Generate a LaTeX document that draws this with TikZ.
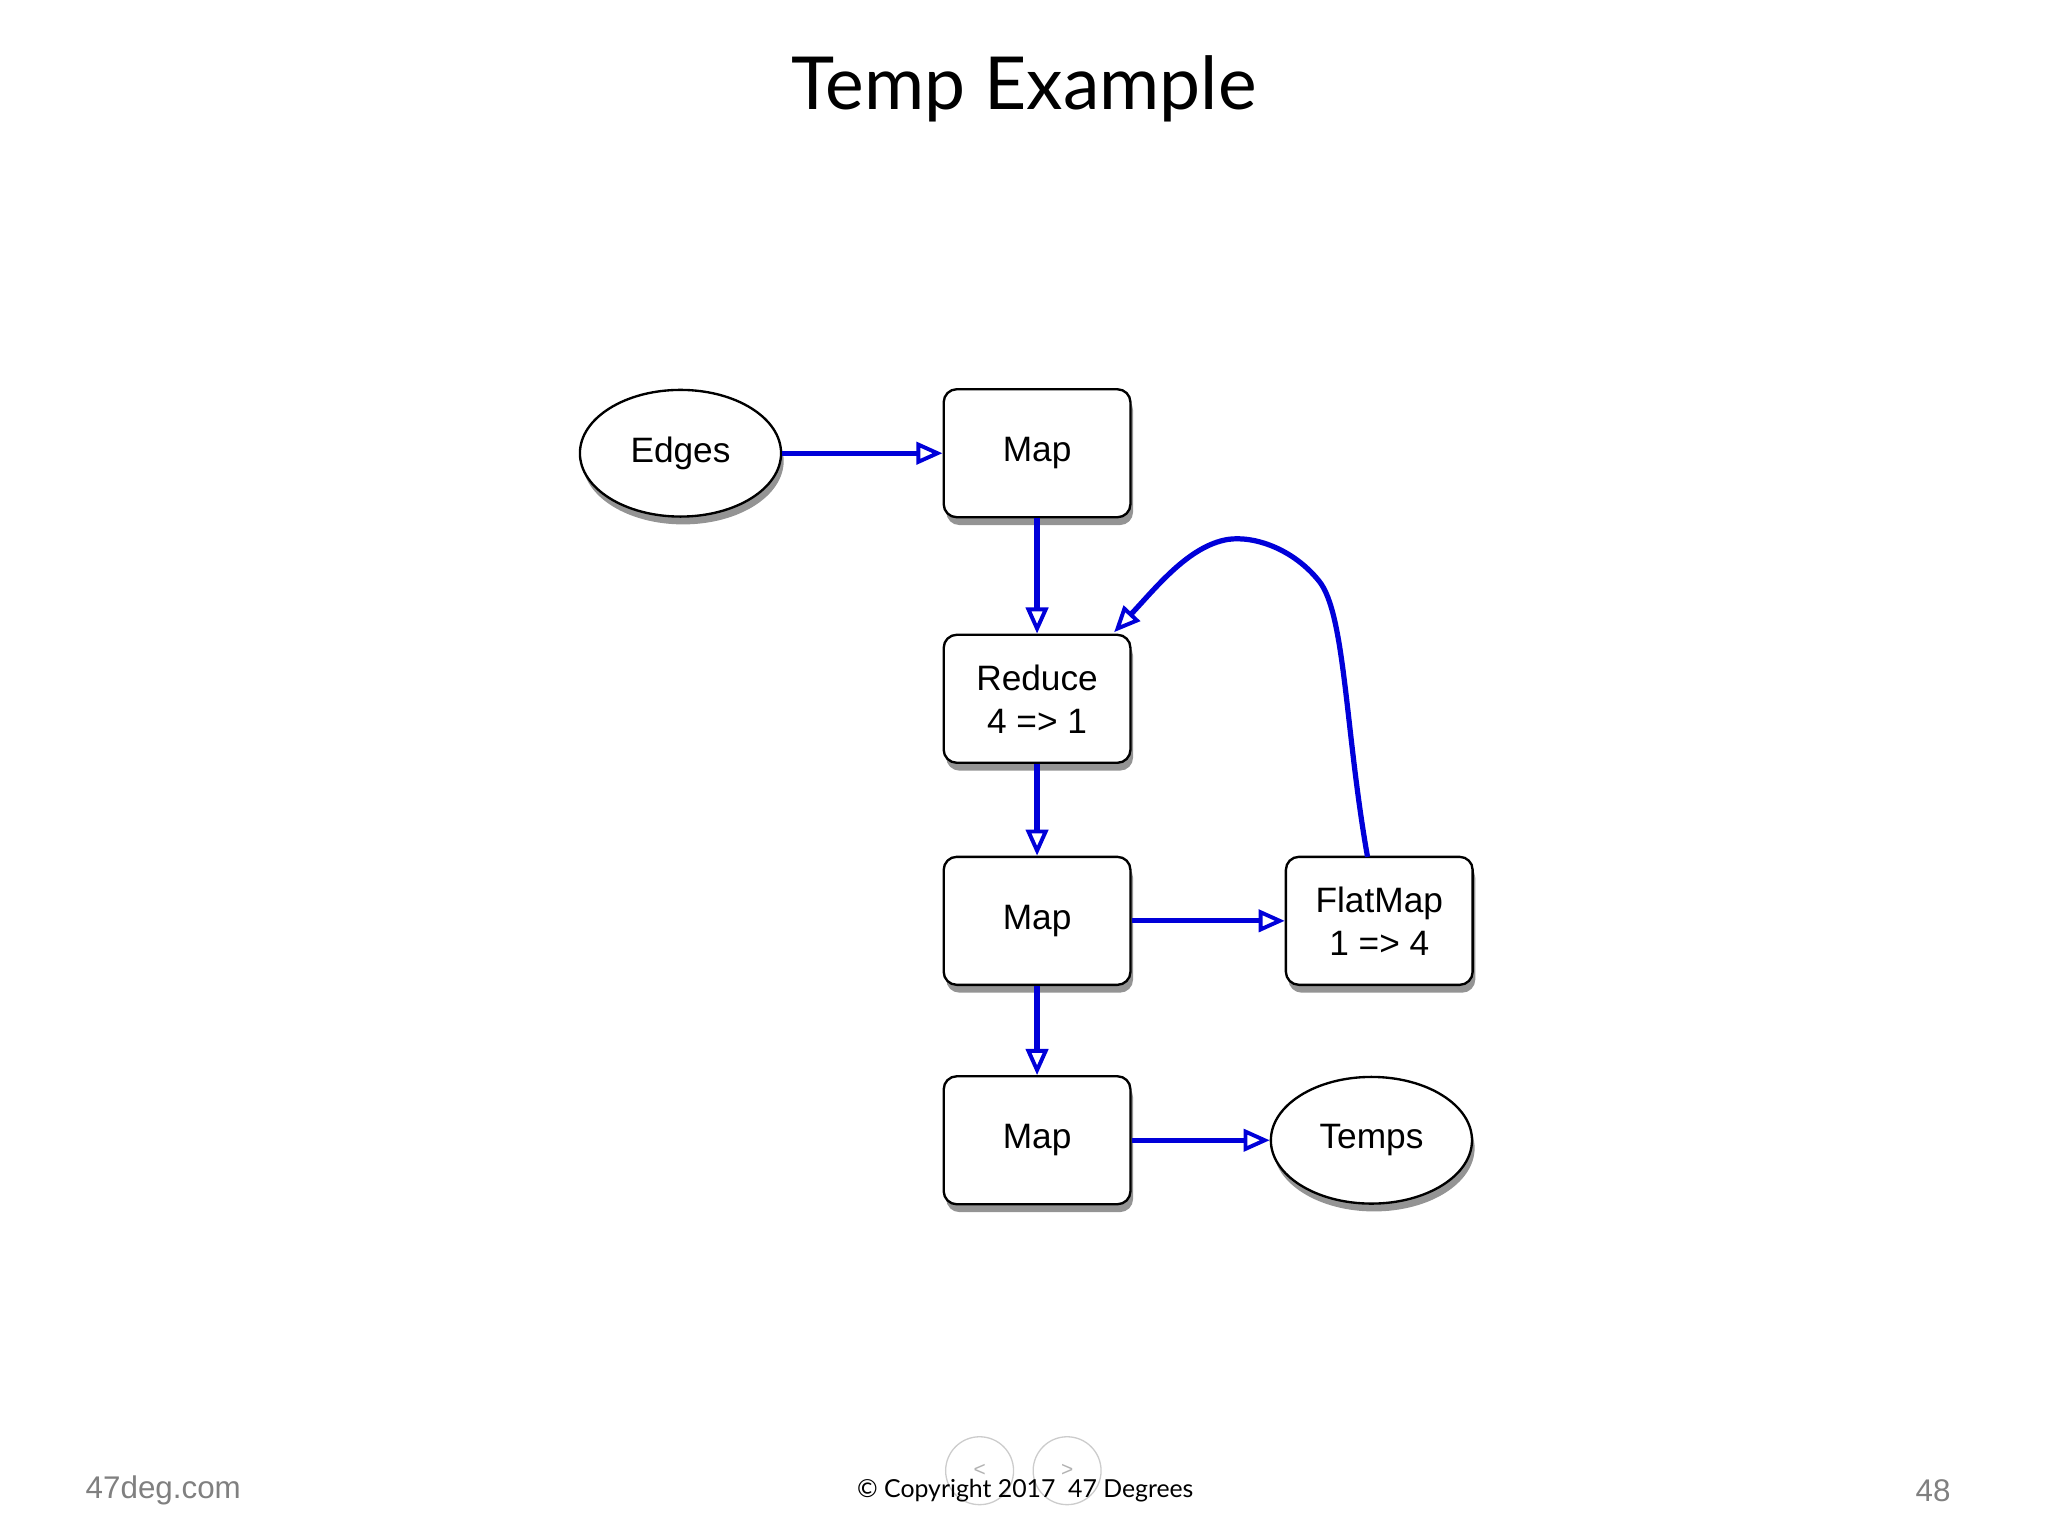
\documentclass[tikz,border=0pt]{standalone}
\usepackage{fontspec}
\setmainfont{Liberation Sans}
\newfontfamily\titlefont{Lato}
\usetikzlibrary{shapes.geometric,shadows,arrows.meta}
\begin{document}
\begin{tikzpicture}[x=1pt,y=-1pt,
  box/.style={draw,line width=1.8pt,rounded corners=10pt,fill=white,minimum width=143pt,minimum height=98pt,align=center,font=\fontsize{27}{33}\selectfont,drop shadow={shadow xshift=2pt,shadow yshift=-6pt,opacity=0.6,fill=black!70}},
  ell/.style={draw,line width=1.8pt,ellipse,fill=white,minimum width=154pt,minimum height=97pt,font=\fontsize{27}{33}\selectfont,drop shadow={shadow xshift=2pt,shadow yshift=-6pt,opacity=0.6,fill=black!70}},
  arr/.style={draw=blue!85!black,line width=4pt,-{Triangle[open,length=20pt,width=17pt,line width=3pt]}}]
\useasboundingbox (0,0) rectangle (1568,1176);
\node[font=\titlefont\fontsize{56}{64}\selectfont] (title) at (784,68) {Temp Example};
\node[ell] (edges) at (521,347) {Edges};
\node[box] (m1) at (794,347) {Map};
\node[box] (red) at (794,535) {Reduce\\4 => 1};
\node[box] (m2) at (794,705) {Map};
\node[box] (fm) at (1056,705) {FlatMap\\1 => 4};
\node[box] (m3) at (794,873) {Map};
\node[ell] (temps) at (1050,873) {Temps};
\coordinate (cs) at (1047,656);
\coordinate (ce) at (853,484);
\draw[arr] (edges) -- (m1);
\draw[arr] (m1) -- (red);
\draw[arr] (red) -- (m2);
\draw[arr] (m2) -- (fm);
\draw[arr] (m2) -- (m3);
\draw[arr] (m3) -- (temps);
\draw[arr] (cs) .. controls (1030,560) and (1030,470) .. (1010,445) .. controls (990,420) and (960,410) .. (940,413) .. controls (910,418) and (885,450) .. (ce);
\node[text=gray,font=\fontsize{24}{28}\selectfont] (site) at (125,1141) {47deg.com};
\node[text=gray,font=\fontsize{24}{28}\selectfont] (pg) at (1480,1141) {48};
\draw[gray!40,line width=1pt] (750,1126) circle (26);
\draw[gray!40,line width=1pt] (817,1126) circle (26);
\node[text=gray!60,font=\fontsize{16}{18}\selectfont] (lt) at (750,1126) {<};
\node[text=gray!60,font=\fontsize{16}{18}\selectfont] (gt) at (817,1126) {>};
\node[font=\titlefont\fontsize{19}{22}\selectfont] (copy) at (785,1141) {\textcopyright\ Copyright 2017\ \ 47 Degrees};
\end{tikzpicture}
\end{document}
